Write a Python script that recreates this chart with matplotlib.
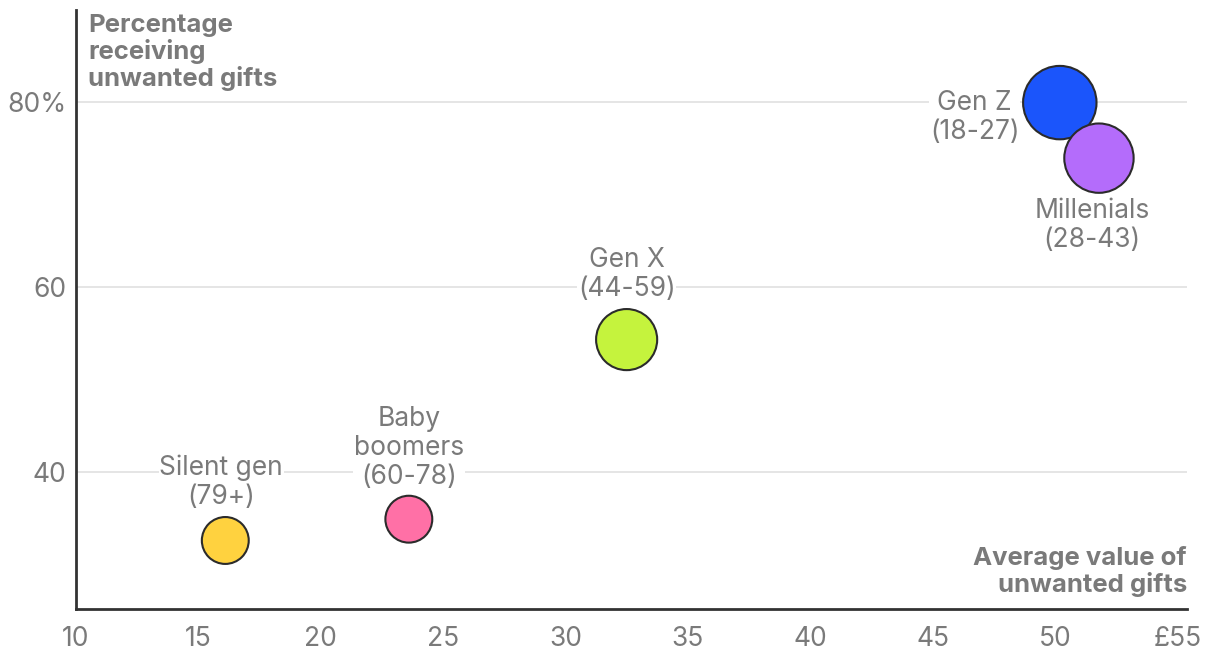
import matplotlib.pyplot as plt

# Data
generations = ["Silent gen\n(79+)", "Baby\nboomers\n(60-78)", "Gen X\n(44-59)",
               "Gen Z\n(18-27)", "Millenials\n(28-43)"]
avg_value = [16.1, 23.6, 32.5, 50.2, 51.8]        # £
pct_unwanted = [32.6, 34.9, 54.3, 79.9, 73.9]     # %
bubble_weight = [0.53, 0.53, 0.90, 1.30, 1.16]    # relative bubble area

colors = ["#ffd23f", "#ff70a6", "#c5f33d", "#1b55fb", "#b46cfb"]
# label placement: (dx, dy) in points, ha, va
label_pos = [((-3, 22), "center", "bottom"),
             ((0, 21), "center", "bottom"),
             ((0, 27), "center", "bottom"),
             ((-29, -11), "right", "center"),
             ((-5, -29), "center", "top")]

plt.rcParams['font.family'] = ['Inter', 'DejaVu Sans']
grey = "#7a7a7a"

fig = plt.figure(figsize=(12.2, 6.6), dpi=100)
ax = fig.add_axes([0.0623, 0.0773, 0.9107, 0.9075])

ax.set_xlim(10, 55.4)
ax.set_ylim(25.2, 89.9)
ax.set_yticks([40, 60, 80])
ax.set_yticklabels(["40", "60", "80%"])
ax.set_xticks(range(10, 56, 5))
ax.set_xticklabels([str(v) for v in range(10, 55, 5)] + ["£55"])
ax.tick_params(length=0, labelsize=19, labelcolor=grey, pad=12)
ax.tick_params(axis="y", pad=7)
ax.grid(axis="y", color="#e3e3e3", linewidth=1.3)
ax.set_axisbelow(True)
for side in ["top", "right"]:
    ax.spines[side].set_visible(False)
for side in ["left", "bottom"]:
    ax.spines[side].set_color("#333333")
    ax.spines[side].set_linewidth(2)

sizes = [w * 2150 for w in bubble_weight]
ax.scatter(avg_value, pct_unwanted, s=sizes, c=colors, edgecolors="#2b2b2b",
           linewidths=1.5, zorder=3)

for name, x, y, (off, ha, va) in zip(generations, avg_value, pct_unwanted, label_pos):
    ax.annotate(name, (x, y), xytext=off, textcoords="offset points",
                ha=ha, va=va, multialignment="center", fontsize=19,
                color=grey, linespacing=1.15, zorder=2,
                bbox=dict(facecolor="white", edgecolor="none", pad=0.5))

ax.text(0.011, 0.994, "Percentage\nreceiving\nunwanted gifts", transform=ax.transAxes,
        ha="left", va="top", fontsize=18.5, fontweight="bold", color=grey,
        linespacing=1.12)
ax.text(1.0, 0.02, "Average value of\nunwanted gifts", transform=ax.transAxes,
        ha="right", va="bottom", multialignment="right", fontsize=18.5,
        fontweight="bold", color=grey, linespacing=1.1)

fig.savefig("out.png", dpi=100)
